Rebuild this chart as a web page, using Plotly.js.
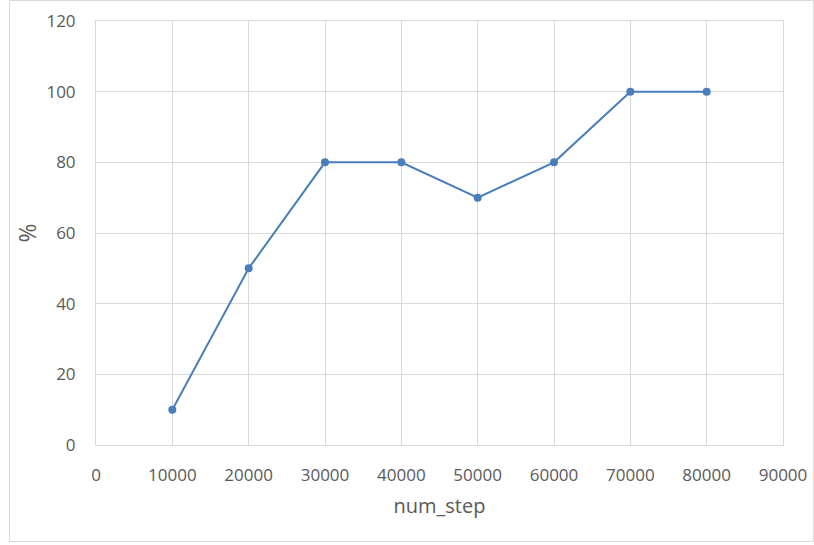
<!DOCTYPE html>
<html>
<head>
<meta charset="utf-8">
<script src="https://cdn.plot.ly/plotly-3.0.1.min.js"></script>
<style>html,body{margin:0;padding:0;background:#fff;}#chart{width:814px;height:545px;}</style>
</head>
<body>
<div id="chart"></div>
<script>
const numStep = [10000, 20000, 30000, 40000, 50000, 60000, 70000, 80000];
const percent = [10, 50, 80, 80, 70, 80, 100, 100];
const xTicks = [0, 10000, 20000, 30000, 40000, 50000, 60000, 70000, 80000, 90000];
const yTicks = [0, 20, 40, 60, 80, 100, 120];

const W = 814, H = 545, L = 96, R = 31, T = 21, B = 100;
const pw = W - L - R, ph = H - T - B;
const px = v => (v - L) / pw;
const py = v => (H - B - v) / ph;

const trace = {
  x: numStep, y: percent, type: 'scatter', mode: 'lines+markers',
  line: {color: '#4a7ebb', width: 2},
  marker: {color: '#4a7ebb', size: 8},
  hoverinfo: 'skip'
};
const fontFam = 'Open Sans, Noto Sans, sans-serif';
const layout = {
  width: W, height: H,
  margin: {l: L, r: R, t: T, b: B, pad: 0},
  paper_bgcolor: '#fff', plot_bgcolor: '#fff',
  showlegend: false,
  font: {family: fontFam, color: '#595959', size: 17},
  xaxis: {
    range: [0, 90000], tickvals: xTicks, ticktext: xTicks.map(String),
    showgrid: true, gridcolor: '#d9d9d9', gridwidth: 1,
    zeroline: false, showline: true, linecolor: '#d9d9d9', linewidth: 1, mirror: true,
    ticks: 'outside', ticklen: 15, tickcolor: 'rgba(0,0,0,0)',
    tickfont: {size: 17, color: '#595959'},
    title: {text: 'num_step', font: {size: 20, color: '#595959'}, standoff: 13}
  },
  yaxis: {
    range: [0, 120], tickvals: yTicks, ticktext: yTicks.map(String),
    showgrid: true, gridcolor: '#d9d9d9', gridwidth: 1,
    zeroline: false, showline: true, linecolor: '#d9d9d9', linewidth: 1, mirror: true,
    ticks: 'outside', ticklen: 16, tickcolor: 'rgba(0,0,0,0)',
    tickfont: {size: 17, color: '#595959'},
    title: {text: '%', font: {size: 23, color: '#595959'}, standoff: 3}
  },
  shapes: [{
    type: 'rect', xref: 'paper', yref: 'paper',
    x0: px(9.5), x1: px(813.5), y0: py(541.5), y1: py(0.5),
    line: {color: '#d9d9d9', width: 1}, fillcolor: 'rgba(0,0,0,0)', layer: 'below'
  }]
};
Plotly.newPlot('chart', [trace], layout, {staticPlot: true, displayModeBar: false});
</script>
</body>
</html>
